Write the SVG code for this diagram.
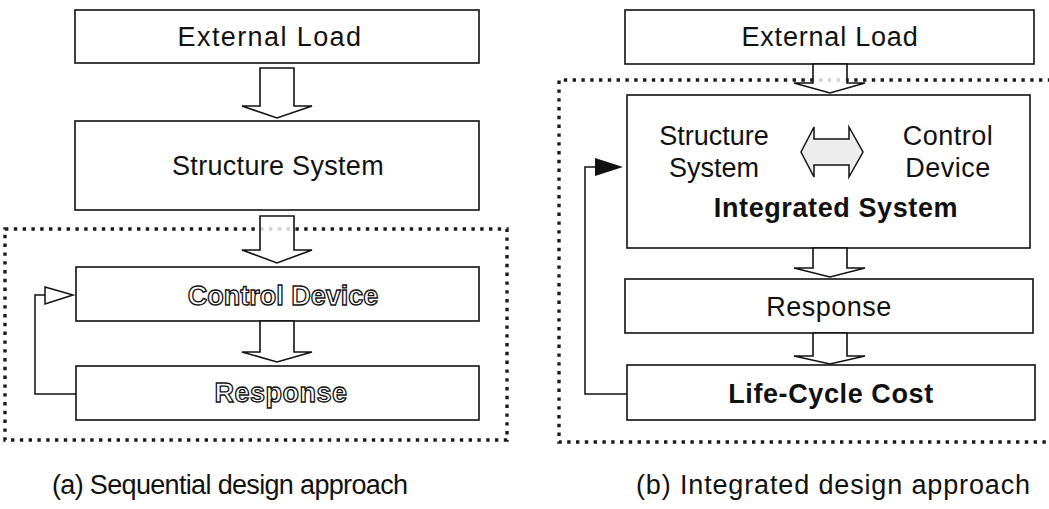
<svg xmlns="http://www.w3.org/2000/svg" width="1049" height="509" viewBox="0 0 1049 509">
  <defs>
    <style>
      .box { fill: #fff; stroke: #111; stroke-width: 1.6; }
      .txt { font-family: "Liberation Sans", Arial, sans-serif; font-size: 27px; fill: #111; text-anchor: middle; }
      .bold { font-weight: bold; }
      .hollow { font-family: "Liberation Sans", Arial, sans-serif; font-size: 27px; font-weight: bold; fill: #fff; stroke: #111; stroke-width: 1.3; text-anchor: middle; }
      .group { fill: none; stroke: #1a1a1a; stroke-width: 3.4; stroke-dasharray: 3.4 5.4; }
      .block { fill: #fff; fill-opacity: 0.8; stroke: #111; stroke-width: 1.6; stroke-linejoin: miter; }
      .line { fill: none; stroke: #111; stroke-width: 1.5; }
      .cap { font-family: "Liberation Sans", Arial, sans-serif; font-size: 27px; fill: #111; }
    </style>
  </defs>

  <!-- dotted grouping frames -->
  <g id="frames">
    <rect class="group" x="5" y="229" width="502" height="211"/>
    <path class="group" d="M1060,80 H559 V442 H1060"/>
  </g>

  <!-- (a) sequential approach -->
  <g id="a-external-load">
    <rect class="box" x="75" y="10" width="404" height="53"/>
    <text class="txt" x="270" y="46" letter-spacing="1.4">External Load</text>
  </g>
  <g id="a-structure-system">
    <rect class="box" x="75" y="121" width="404" height="89"/>
    <text class="txt" x="278" y="175" letter-spacing="0.3">Structure System</text>
  </g>
  <g id="a-control-device">
    <rect class="box" x="76" y="267" width="403" height="54"/>
    <text class="hollow" x="283" y="305">Control Device</text>
  </g>
  <g id="a-response">
    <rect class="box" x="76" y="366" width="403" height="54"/>
    <text class="hollow" x="281" y="402" letter-spacing="0.5">Response</text>
  </g>

  <!-- (b) integrated approach -->
  <g id="b-external-load">
    <rect class="box" x="625" y="10" width="409" height="54"/>
    <text class="txt" x="830" y="46" letter-spacing="0.8">External Load</text>
  </g>
  <g id="b-integrated-system">
    <rect class="box" x="627" y="95" width="403" height="153"/>
    <text class="txt" x="714" y="145">Structure</text>
    <text class="txt" x="714" y="177">System</text>
    <text class="txt" x="948" y="145" letter-spacing="0.5">Control</text>
    <text class="txt" x="948" y="177" letter-spacing="0.5">Device</text>
    <polygon points="801,152 814,127 814,139 849,139 849,127 863,152 849,177 849,165 814,165 814,177" fill="#ededed" stroke="#111" stroke-width="1.5"/>
    <text class="txt bold" x="836" y="217" letter-spacing="0.6">Integrated System</text>
  </g>
  <g id="b-response">
    <rect class="box" x="625" y="279" width="408" height="54"/>
    <text class="txt" x="829" y="316" letter-spacing="0.5">Response</text>
  </g>
  <g id="b-life-cycle-cost">
    <rect class="box" x="627" y="365" width="408" height="55"/>
    <text class="txt bold" x="831" y="403" font-size="29" letter-spacing="0.6">Life-Cycle Cost</text>
  </g>

  <!-- connectors -->
  <g id="connectors">
    <!-- (a) flow -->
    <polygon class="block" points="260,68 294,68 294,106 312,106 277,118 242,106 260,106"/>
    <polygon class="block" points="260,216 294,216 294,250 312,250 277,263 242,250 260,250"/>
    <polygon class="block" points="260,321 294,321 294,352 312,352 277,362 242,352 260,352"/>
    <polyline class="line" points="76,394 35,394 35,295 45,295"/>
    <polygon points="45,287 73,295 45,304" fill="#fff" stroke="#111" stroke-width="1.5"/>

    <!-- (b) flow -->
    <polygon class="block" points="813,64 847,64 847,83 865,83 830,93 794,83 813,83" fill="#ececec"/>
    <polygon class="block" points="813,248 847,248 847,268 865,268 830,277 794,268 813,268"/>
    <polygon class="block" points="813,333 847,333 847,356 865,356 830,364 794,356 813,356"/>
    <polyline class="line" points="627,394 585,394 585,167 595,167"/>
    <polygon points="595,158 623,167 595,176" fill="#111"/>
  </g>

  <!-- captions -->
  <g id="captions">
    <text class="cap" x="52" y="494" textLength="356" lengthAdjust="spacing">(a) Sequential design approach</text>
    <text class="cap" x="636" y="494" textLength="394" lengthAdjust="spacing">(b) Integrated design approach</text>
  </g>
</svg>
